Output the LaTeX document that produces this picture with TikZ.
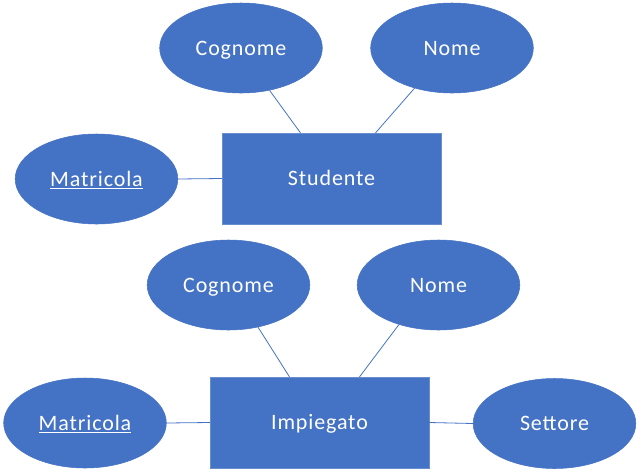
\documentclass[tikz,border=0pt]{standalone}
\usepackage{fontspec}
\setmainfont[LetterSpace=4]{Carlito}
\usetikzlibrary{shapes.geometric,calc}
\definecolor{offblue}{HTML}{4472C4}
\tikzset{
  lbl/.style={text=white, font=\fontsize{16.5}{19}\selectfont, text height=10.6pt, text depth=0pt},
  attr/.style={ellipse, fill=offblue, draw=offblue, minimum width=122pt, minimum height=67.5pt, inner sep=0pt, lbl},
  ent/.style={rectangle, fill=offblue, draw=offblue!80!white, minimum width=164pt, minimum height=68pt, inner sep=0pt, lbl},
  link/.style={draw=offblue, line width=0.6pt}
}
\begin{document}
\begin{tikzpicture}[x=0.75pt,y=-0.75pt]
\useasboundingbox (0,0) rectangle (640,472);
% Studente group
\node[attr] (cog1) at (241,48) {Cognome};
\node[attr] (nom1) at (452,48) {Nome};
\node[ent] (stud) at (331.5,178.5) {Studente};
\node[attr] (mat1) at (96.5,179) {\underline{Matricola}};
% Impiegato group
\node[attr] (cog2) at (228.5,285) {Cognome};
\node[attr] (nom2) at (438.5,285) {Nome};
\node[ent] (imp) at (319.5,422.5) {Impiegato};
\node[attr] (mat2) at (85,423) {\underline{Matricola}};
\node[attr] (sett) at (554.5,423.5) {Settore};
% links
\draw[link] (cog1.-56) -- ($(stud.north)+(-31,0)$);
\draw[link] (nom1.-133) -- ($(stud.north)+(44,0)$);
\draw[link] (mat1.east) -- (stud.west);
\draw[link] (cog2.-55) -- ($(imp.north)+(-30,0)$);
\draw[link] (nom2.-135) -- ($(imp.north)+(40,0)$);
\draw[link] (mat2.east) -- (imp.west);
\draw[link] (imp.east) -- (sett.west);
\end{tikzpicture}
\end{document}
